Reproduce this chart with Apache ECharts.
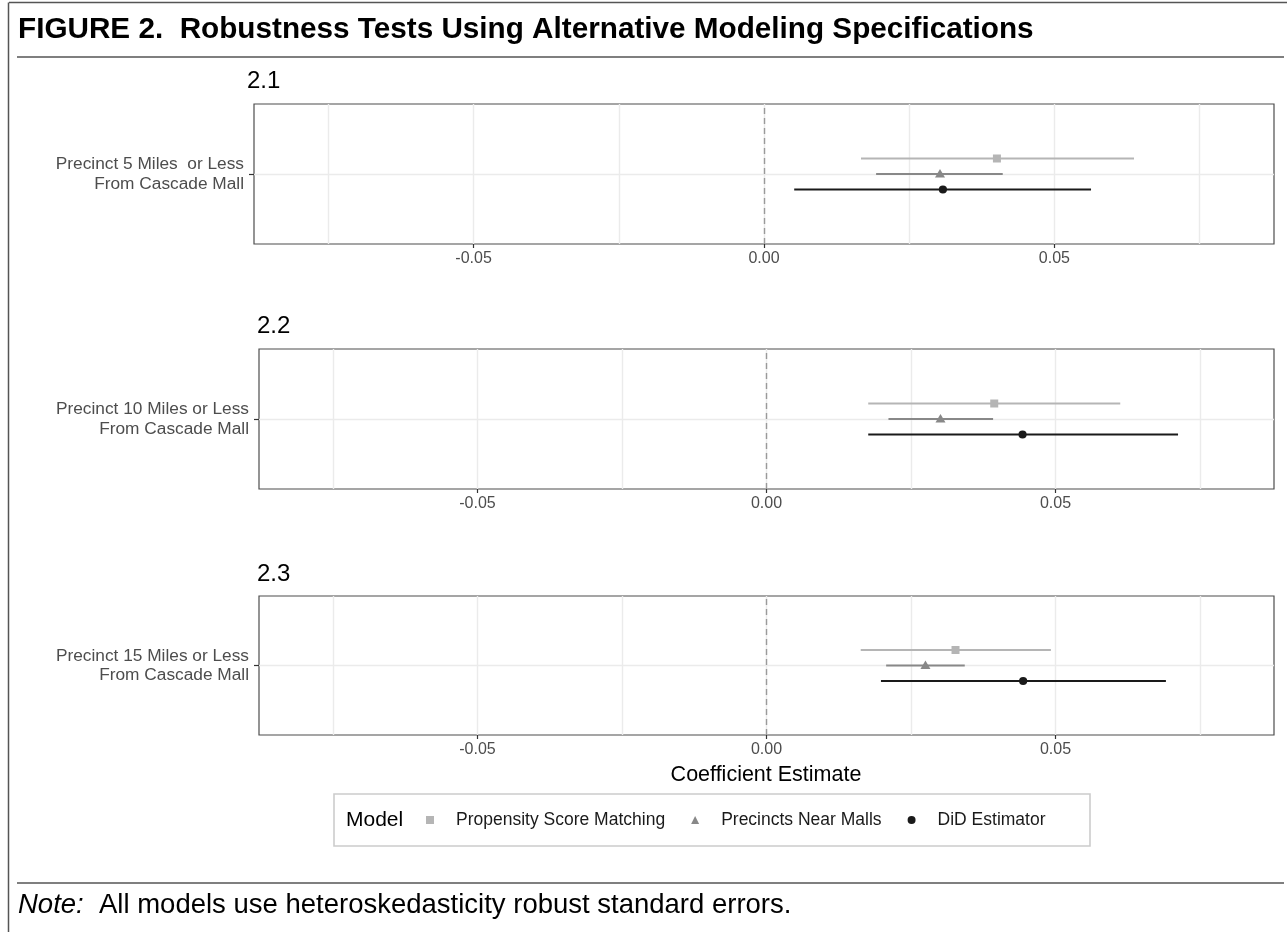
<!DOCTYPE html>
<html>
<head>
<meta charset="utf-8">
<title>Figure 2</title>
<script src="https://cdn.jsdelivr.net/npm/echarts@6/dist/echarts.min.js"></script>
<style>
  html, body { margin: 0; padding: 0; background: #fff; }
  #chart { width: 1287px; height: 932px; }
</style>
</head>
<body>
<div id="chart"></div>
<script>
// panels and their single row label
const panelNames = ['2.1', '2.2', '2.3'];
const rowLabels = [
  'Precinct 5 Miles  or Less\nFrom Cascade Mall',
  'Precinct 10 Miles or Less\nFrom Cascade Mall',
  'Precinct 15 Miles or Less\nFrom Cascade Mall'
];
const modelNames = ['Propensity Score Matching', 'Precincts Near Malls', 'DiD Estimator'];

// [estimate, lower, upper] for panels 2.1, 2.2, 2.3
const psmValues = [[0.0401, 0.0167, 0.0637], [0.0394, 0.0176, 0.0612], [0.0327, 0.0163, 0.0492]];
const nearMallValues = [[0.0303, 0.0193, 0.0411], [0.0301, 0.0211, 0.0392], [0.0275, 0.0207, 0.0343]];
const didValues = [[0.0308, 0.0052, 0.0563], [0.0443, 0.0176, 0.0712], [0.0444, 0.0198, 0.0691]];
const modelValues = [psmValues, nearMallValues, didValues];

// axis ticks
const xTickValues = [-0.05, 0, 0.05];
const xGridValues = [-0.075, -0.05, -0.025, 0, 0.025, 0.05, 0.075];
const xMin = -0.0878;
const xMax = 0.0878;

const FONT = '"Liberation Sans", Arial, Helvetica, sans-serif';
const LINE = '#4d4d4d';
const modelStyles = [
  { color: '#b5b5b5', shape: 'rect', dodge: -15.5 },
  { color: '#888888', shape: 'triangle', dodge: 0 },
  { color: '#1a1a1a', shape: 'circle', dodge: 15.5 }
];
const gridBoxes = [
  { left: 254, right: 13, top: 104, height: 140 },
  { left: 259, right: 13, top: 349, height: 140 },
  { left: 259, right: 13, top: 596, height: 139 }
];
const titleY = [81, 326, 574];
const titleX = [247, 257, 257];

// error bar + point, dodged vertically by a few pixels
function renderInterval(style) {
  return function (params, api) {
    const row = api.value(3);
    const lo = api.coord([api.value(1), row]);
    const hi = api.coord([api.value(2), row]);
    const pt = api.coord([api.value(0), row]);
    const y = pt[1] + style.dodge;
    const children = [{
      type: 'line',
      shape: { x1: lo[0], y1: y, x2: hi[0], y2: y },
      style: { stroke: style.color, lineWidth: 1.9 }
    }];
    if (style.shape === 'rect') {
      children.push({ type: 'rect', shape: { x: pt[0] - 4, y: y - 4, width: 8, height: 8 }, style: { fill: style.color } });
    } else if (style.shape === 'triangle') {
      children.push({ type: 'polygon', shape: { points: [[pt[0], y - 5], [pt[0] - 5, y + 3.5], [pt[0] + 5, y + 3.5]] }, style: { fill: style.color } });
    } else {
      children.push({ type: 'circle', shape: { cx: pt[0], cy: y, r: 4.1 }, style: { fill: style.color } });
    }
    return { type: 'group', children: children };
  };
}

const grid = [];
const xAxis = [];
const yAxis = [];
const series = [];

gridBoxes.forEach((box, p) => {
  grid.push(Object.assign({ show: true, borderColor: LINE, borderWidth: 1.2, backgroundColor: 'transparent' }, box));
  // axis with labels and ticks
  xAxis.push({
    gridIndex: p, type: 'value', min: xMin, max: xMax,
    axisLine: { show: false, onZero: false },
    axisTick: { show: true, length: 4, customValues: xTickValues, lineStyle: { color: '#333', width: 1.2 } },
    axisLabel: { customValues: xTickValues, formatter: v => v.toFixed(2), color: LINE, fontSize: 16, fontFamily: FONT, margin: 7 },
    splitLine: { show: false }
  });
  // axis that only draws the vertical grid lines
  xAxis.push({
    gridIndex: p, type: 'value', min: xMin, max: xMax,
    axisLine: { show: false, onZero: false },
    axisTick: { show: false, customValues: xGridValues },
    axisLabel: { show: false },
    splitLine: { show: true, lineStyle: { color: '#ebebeb', width: 1.4 } }
  });
  yAxis.push({
    gridIndex: p, type: 'value', min: -1, max: 1,
    axisLine: { show: false, onZero: false },
    axisTick: { show: true, length: 5, customValues: [0], lineStyle: { color: '#333', width: 1.2 } },
    axisLabel: {
      customValues: [0], formatter: () => rowLabels[p],
      color: LINE, fontSize: 17.3, lineHeight: 19.5, fontFamily: FONT, margin: 10, align: 'right'
    },
    splitLine: { show: true, lineStyle: { color: '#ebebeb', width: 1.4 } }
  });
  modelNames.forEach((name, m) => {
    const s = {
      type: 'custom',
      name: name,
      xAxisIndex: p * 2,
      yAxisIndex: p,
      itemStyle: { color: modelStyles[m].color },
      encode: { x: [0, 1, 2], y: 3 },
      data: [modelValues[m][p].concat([0])],
      renderItem: renderInterval(modelStyles[m]),
      z: 3 + m
    };
    if (m === 0) {
      s.markLine = {
        silent: true,
        symbol: ['none', 'none'],
        label: { show: false },
        lineStyle: { color: '#9a9a9a', width: 1.4, type: [6, 4] },
        data: [{ xAxis: 0 }]
      };
    }
    series.push(s);
  });
});

function label(text, x, y, size, extra) {
  return {
    type: 'text', x: x, y: y, silent: true,
    style: Object.assign({
      text: text, fill: '#000', textVerticalAlign: 'middle',
      font: size + 'px ' + FONT
    }, extra || {})
  };
}

function rule(x1, y1, x2, y2) {
  return { type: 'line', silent: true, shape: { x1: x1, y1: y1, x2: x2, y2: y2 }, style: { stroke: '#555', lineWidth: 1.5 } };
}

const graphic = [
  rule(9, 2.5, 1287, 2.5),
  rule(8.5, 2.5, 8.5, 932),
  rule(17, 57, 1284, 57),
  rule(17, 883, 1284, 883),
  { type: 'rect', silent: true, shape: { x: 334, y: 794, width: 756, height: 52 }, style: { fill: 'none', stroke: '#cccccc', lineWidth: 1.6 } },
  label('FIGURE 2.  Robustness Tests Using Alternative Modeling Specifications', 18, 29.5, 29.7, { font: 'bold 29.7px ' + FONT }),
  label('Coefficient Estimate', 766, 775, 21.5, { textAlign: 'center' }),
  label('Model', 346, 820, 21),
  {
    type: 'text', x: 18, y: 905, silent: true,
    style: {
      text: '{i|Note:}  All models use heteroskedasticity robust standard errors.',
      fill: '#000', textVerticalAlign: 'middle', font: '27.5px ' + FONT,
      rich: { i: { fontStyle: 'italic', fontSize: 27.5, fontFamily: FONT, fill: '#000' } }
    }
  }
];
panelNames.forEach((t, p) => graphic.push(label(t, titleX[p], titleY[p], 24)));

const chart = echarts.init(document.getElementById('chart'));
chart.setOption({
  animation: false,
  backgroundColor: '#fff',
  grid: grid,
  xAxis: xAxis,
  yAxis: yAxis,
  series: series,
  legend: {
    left: 426, top: 811, padding: 0,
    itemWidth: 8, itemHeight: 8, itemGap: 26,
    selectedMode: false,
    textStyle: { fontSize: 17.5, color: '#1a1a1a', fontFamily: FONT, padding: [0, 0, 0, 17] },
    data: modelNames.map((n, i) => ({ name: n, icon: modelStyles[i].shape, itemStyle: { color: modelStyles[i].color } }))
  },
  graphic: graphic
});
</script>
</body>
</html>
